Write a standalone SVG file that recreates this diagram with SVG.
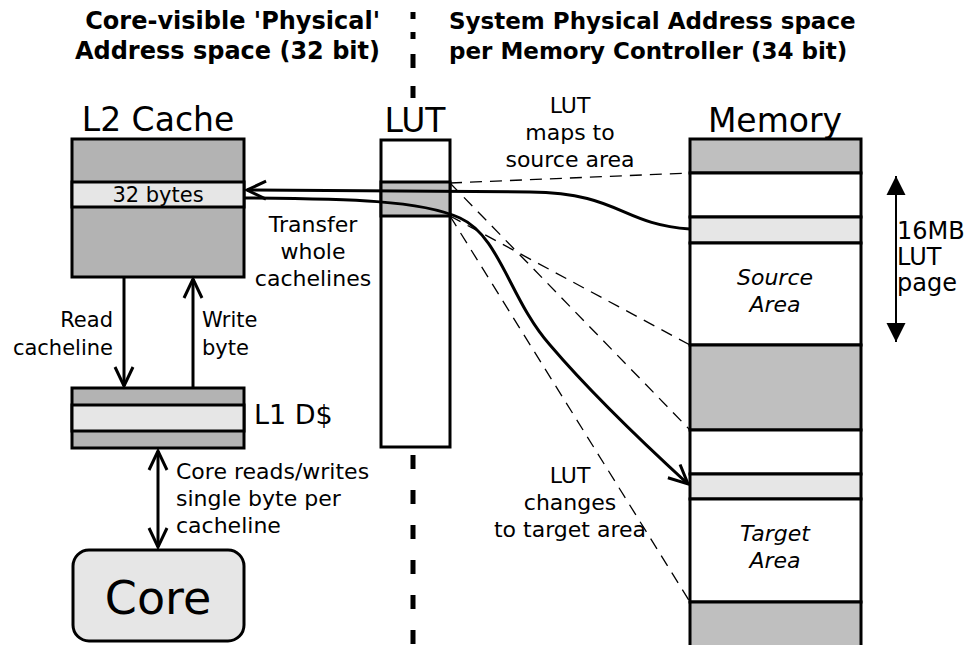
<svg xmlns="http://www.w3.org/2000/svg" width="968" height="645" viewBox="0 0 968 645">
<style>
.t{font-family:"DejaVu Sans","Noto Sans",sans-serif;fill:#000}
.lbl{font-size:22px}
.ttl{font-size:33px}
.hdr{font-weight:bold}
.it{font-style:italic}
.bx{stroke:#000;stroke-width:3}
.dk{fill:#b3b3b3}
.md{fill:#bfbfbf}
.lt{fill:#e6e6e6}
.wh{fill:#fff}
.thick{fill:none;stroke:#000;stroke-width:3}
.dash{fill:none;stroke:#000;stroke-width:1.3;stroke-dasharray:12 8}
</style>
<defs>
<marker id="open" viewBox="-22 -12 26 24" refX="0" refY="0" markerWidth="26" markerHeight="24" markerUnits="userSpaceOnUse" orient="auto-start-reverse">
<path d="M-19,-9 L0,0 L-19,9" fill="none" stroke="#000" stroke-width="3" stroke-linejoin="miter"/>
</marker>
<marker id="fill" viewBox="-22 -12 26 24" refX="0" refY="0" markerWidth="26" markerHeight="24" markerUnits="userSpaceOnUse" orient="auto-start-reverse">
<path d="M-19,-9.5 L0,0 L-19,9.5 Z" fill="#000"/>
</marker>
</defs>

<g id="headers">
<text class="t hdr" style="font-size:24px" x="380" y="29" text-anchor="end">Core-visible 'Physical'</text>
<text class="t hdr" style="font-size:24px" x="380" y="59" text-anchor="end">Address space (32 bit)</text>
<text class="t hdr" style="font-size:23px" x="449" y="29">System Physical Address space</text>
<text class="t hdr" style="font-size:23px" x="449" y="59">per Memory Controller (34 bit)</text>
</g>

<g id="divider" fill="none" stroke="#000" stroke-width="5">
<path d="M413,12 V19 M413,32 V39 M413,54 V68 M413,86 V98"/>
<path d="M413,455 V645" stroke-dasharray="14 21"/>
</g>

<g id="l2cache">
<text class="t ttl" x="158" y="131" text-anchor="middle">L2 Cache</text>
<rect class="bx dk" x="72" y="139" width="172" height="138"/>
<rect class="bx lt" x="72" y="182" width="172" height="25"/>
<text class="t" style="font-size:21px" x="158" y="202" text-anchor="middle">32 bytes</text>
</g>

<g id="l1cache">
<rect class="bx dk" x="72" y="388" width="172" height="60"/>
<rect class="bx lt" x="72" y="405" width="172" height="26"/>
<text class="t" style="font-size:27px" x="254" y="424">L1 D$</text>
</g>

<g id="core">
<rect class="bx lt" x="73" y="550" width="171" height="91" rx="16"/>
<text class="t" style="font-size:46px" x="158" y="614" text-anchor="middle">Core</text>
</g>

<g id="lut">
<text class="t ttl" x="415" y="132" text-anchor="middle">LUT</text>
<rect class="bx wh" x="381" y="140" width="69" height="307"/>
<rect class="bx md" x="381" y="182" width="69" height="34"/>
</g>

<g id="memory">
<text class="t ttl" x="775" y="132" text-anchor="middle">Memory</text>
<rect class="bx md" x="690" y="139" width="171" height="34"/>
<rect class="bx wh" x="690" y="173" width="171" height="44"/>
<rect class="bx lt" x="690" y="217" width="171" height="26"/>
<rect class="bx wh" x="690" y="243" width="171" height="102"/>
<rect class="bx md" x="690" y="345" width="171" height="85"/>
<rect class="bx wh" x="690" y="430" width="171" height="44"/>
<rect class="bx lt" x="690" y="474" width="171" height="25"/>
<rect class="bx wh" x="690" y="499" width="171" height="103"/>
<rect class="bx md" x="690" y="602" width="171" height="50"/>
<text class="t lbl it" x="775" y="285" text-anchor="middle">Source</text>
<text class="t lbl it" x="775" y="312" text-anchor="middle">Area</text>
<text class="t lbl it" x="775" y="541" text-anchor="middle">Target</text>
<text class="t lbl it" x="775" y="568" text-anchor="middle">Area</text>
</g>

<g id="connectors">
<path class="dash" d="M450,183 L690,173"/>
<path class="dash" d="M450,216 L690,345"/>
<path class="dash" d="M450,183 L690,430"/>
<path class="dash" d="M450,216 L690,602"/>
<path class="thick" d="M690,229 C620,224 620,193 530,192 L247,190" marker-end="url(#open)"/>
<path class="thick" d="M245,198 C350,199 420,200 460,218 C500,236 510,300 550,345 C590,392 640,440 688,484" marker-end="url(#open)"/>
<path class="thick" d="M124,277 V386" marker-end="url(#open)"/>
<path class="thick" d="M193,388 V279" marker-end="url(#open)"/>
<path class="thick" d="M158,451 V547" marker-start="url(#open)" marker-end="url(#open)"/>
<path d="M896,176 V342" fill="none" stroke="#000" stroke-width="2" marker-start="url(#fill)" marker-end="url(#fill)"/>
</g>

<g id="labels">
<text class="t" style="font-size:21px" x="113" y="327" text-anchor="end">Read</text>
<text class="t" style="font-size:21px" x="113" y="355" text-anchor="end">cacheline</text>
<text class="t" style="font-size:21px" x="202" y="327">Write</text>
<text class="t" style="font-size:21px" x="202" y="355">byte</text>
<text class="t lbl" x="176" y="479">Core reads/writes</text>
<text class="t lbl" x="176" y="506">single byte per</text>
<text class="t lbl" x="176" y="533">cacheline</text>
<text class="t lbl" x="313" y="232" text-anchor="middle">Transfer</text>
<text class="t lbl" x="313" y="259" text-anchor="middle">whole</text>
<text class="t lbl" x="313" y="286" text-anchor="middle">cachelines</text>
<text class="t lbl" x="570" y="113" text-anchor="middle">LUT</text>
<text class="t lbl" x="570" y="140" text-anchor="middle">maps to</text>
<text class="t lbl" x="570" y="167" text-anchor="middle">source area</text>
<text class="t lbl" x="570" y="483" text-anchor="middle">LUT</text>
<text class="t lbl" x="570" y="510" text-anchor="middle">changes</text>
<text class="t lbl" x="570" y="537" text-anchor="middle">to target area</text>
<text class="t" style="font-size:24px" x="897" y="239">16MB</text>
<text class="t" style="font-size:24px" x="897" y="265">LUT</text>
<text class="t" style="font-size:24px" x="897" y="291">page</text>
</g>
</svg>
